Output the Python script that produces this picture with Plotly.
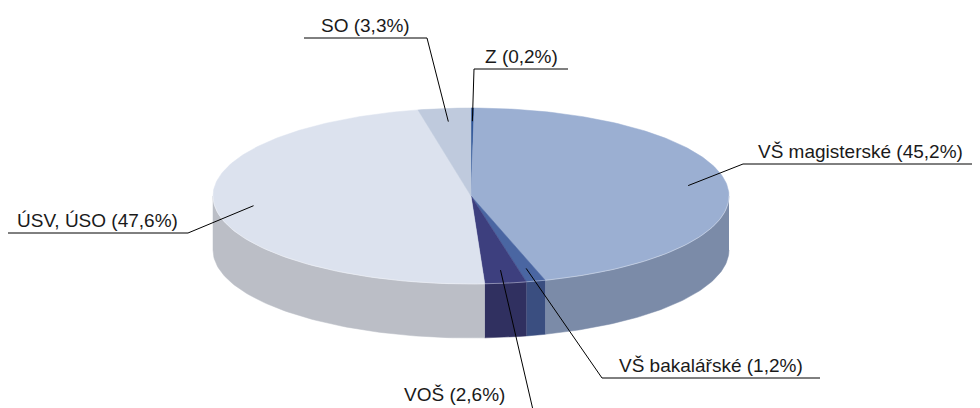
import numpy as np
import plotly.graph_objects as go

# ---- data ----
categories = ["Z", "VŠ magisterské", "VŠ bakalářské", "VOŠ", "ÚSV, ÚSO", "SO"]
values = [0.2, 45.2, 1.2, 2.6, 47.6, 3.3]
label_texts = ["Z (0,2%)", "VŠ magisterské (45,2%)", "VŠ bakalářské (1,2%)",
               "VOŠ (2,6%)", "ÚSV, ÚSO (47,6%)", "SO (3,3%)"]

# ---- style ----
top_colors = ["#2F5597", "#9BAFD2", "#4A66A2", "#3D3F7E", "#DCE2EE", "#BFCADD"]
side_colors = ["#263F70", "#7B8BA8", "#3A4E80", "#303060", "#BBBEC6", "#98A2B3"]

W, H = 980, 408
OFF = 8  # page body margin of the html page
cx, cy, rx, ry, depth = 471, 196, 258, 88, 54
anchor_r = 0.85

# label layout: elbow point (x, y), far end of underline x, text gap above line
label_layout = {
    "Z": (474, 69, 568, 13),
    "VŠ magisterské": (743, 164, 978, 13),
    "VŠ bakalářské": (602, 378, 820, 13),
    "VOŠ": (533, 410, 375, 16),
    "ÚSV, ÚSO": (188, 233, 7, 13),
    "SO": (427, 38, 304, 13),
}

total = float(sum(values))
cum = np.concatenate([[0.0], np.cumsum(values)]) / total * 2 * np.pi


def ex(t, r=1.0):
    return cx + rx * r * np.sin(t)


def ey(t, r=1.0):
    return cy - ry * r * np.cos(t)


fig = go.Figure()

# sides (front half only: t in [pi/2, 3pi/2])
for i, cat in enumerate(categories):
    a, b = max(cum[i], np.pi / 2), min(cum[i + 1], 3 * np.pi / 2)
    if b <= a:
        continue
    t = np.linspace(a, b, 80)
    xs = np.concatenate([ex(t), ex(t[::-1])])
    ys = np.concatenate([ey(t), ey(t[::-1]) + depth])
    fig.add_trace(go.Scatter(x=xs, y=ys, fill="toself", mode="lines",
                             fillcolor=side_colors[i],
                             line=dict(color=side_colors[i], width=0.5),
                             hoverinfo="skip", showlegend=False))

# tops
for i, cat in enumerate(categories):
    t = np.linspace(cum[i], cum[i + 1], max(4, int(values[i] * 4)))
    xs = np.concatenate([[cx], ex(t), [cx]])
    ys = np.concatenate([[cy], ey(t), [cy]])
    fig.add_trace(go.Scatter(x=xs, y=ys, fill="toself", mode="lines",
                             fillcolor=top_colors[i],
                             line=dict(color=top_colors[i], width=0.5),
                             hoverinfo="skip", showlegend=False))

# subtle light rim between top and side
t = np.linspace(np.pi / 2, 3 * np.pi / 2, 200)
fig.add_trace(go.Scatter(x=ex(t), y=ey(t), mode="lines",
                         line=dict(color="rgba(255,255,255,0.35)", width=1),
                         hoverinfo="skip", showlegend=False))

# leader lines and labels
for i, cat in enumerate(categories):
    mid = (cum[i] + cum[i + 1]) / 2
    ax_, ay_ = ex(mid, anchor_r), ey(mid, anchor_r)
    exx, eyy, endx, gap = label_layout[cat]
    fig.add_trace(go.Scatter(x=[ax_, exx, endx], y=[ay_, eyy, eyy], mode="lines",
                             line=dict(color="#000000", width=1),
                             hoverinfo="skip", showlegend=False))
    fig.add_annotation(x=(exx + endx) / 2, y=eyy - gap, text=label_texts[i],
                       showarrow=False, xanchor="center", yanchor="middle",
                       font=dict(family="Liberation Sans, Arial, sans-serif",
                                 size=19, color="#1a1a1a"))

fig.update_layout(
    width=W, height=H,
    margin=dict(l=0, r=0, t=0, b=0),
    paper_bgcolor="white", plot_bgcolor="white",
    xaxis=dict(range=[OFF, W + OFF], visible=False, fixedrange=True),
    yaxis=dict(range=[H + OFF, OFF], visible=False, fixedrange=True),
)

fig.write_html("out.html")
